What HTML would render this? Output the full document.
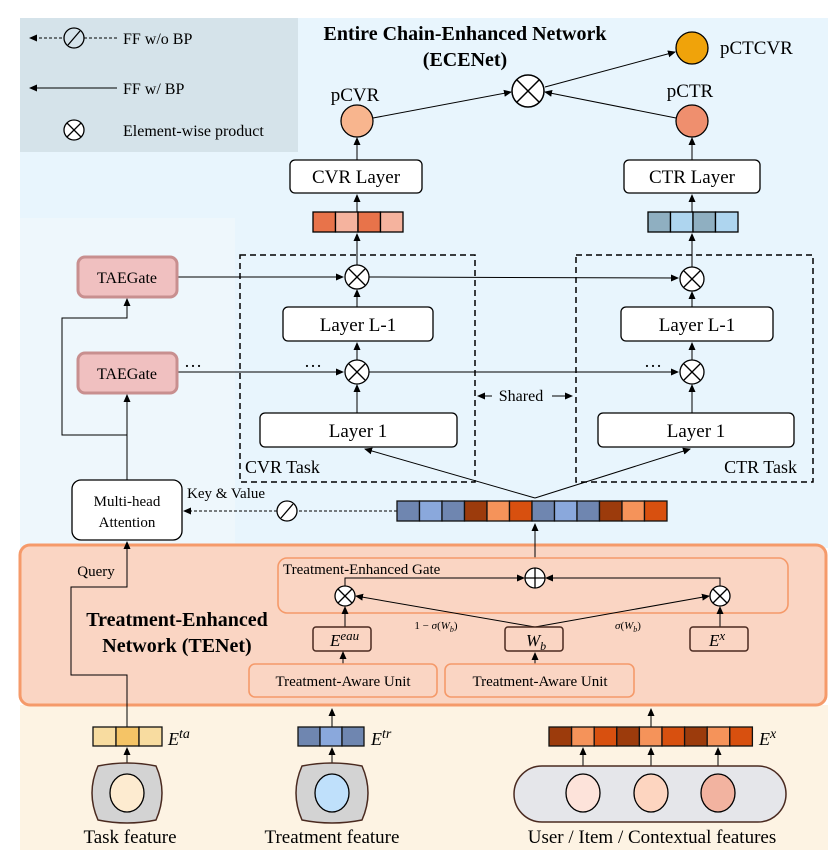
<!DOCTYPE html>
<html><head><meta charset="utf-8"><style>
html,body{margin:0;padding:0;background:#fff}
svg{display:block;font-family:"Liberation Serif",serif}
</style></head><body>
<svg width="840" height="862" viewBox="0 0 840 862" xmlns="http://www.w3.org/2000/svg">
<defs>
<marker id="a" markerWidth="8" markerHeight="8" refX="7" refY="4" orient="auto" markerUnits="userSpaceOnUse"><path d="M0,0.5 L8,4 L0,7.5 z" fill="#000"/></marker>
</defs>
<rect x="20" y="18" width="808" height="530" fill="#e8f5fd"/>
<rect x="20" y="218" width="215" height="330" fill="#eef7fc"/>
<rect x="20" y="18" width="278" height="134" fill="#d5e3ea"/>
<rect x="20" y="705" width="808" height="145" fill="#fdf3e3"/>
<rect x="20" y="545" width="806" height="160" rx="10" fill="#fad5c3" stroke="#f59a6a" stroke-width="3"/>

<!-- legend -->
<line x1="117" y1="38" x2="30" y2="38" stroke="#000" stroke-dasharray="3,2" marker-end="url(#a)"/>
<circle cx="74" cy="38" r="10" fill="#d5e3ea" stroke="#000" stroke-width="1.3"/><line x1="68" y1="45" x2="80" y2="31" stroke="#000" stroke-width="1.3"/>
<text x="123" y="44" font-size="16">FF w/o BP</text>
<line x1="117" y1="88" x2="30" y2="88" stroke="#000" marker-end="url(#a)"/>
<text x="123" y="94" font-size="16">FF w/ BP</text>
<g stroke="#000" stroke-width="1.3"><circle cx="74" cy="130" r="10" fill="#fff"/><line x1="67" y1="123" x2="81" y2="137"/><line x1="81" y1="123" x2="67" y2="137"/></g>
<text x="123" y="136" font-size="16">Element-wise product</text>

<text x="465" y="40" font-size="20" font-weight="bold" text-anchor="middle">Entire Chain-Enhanced Network</text>
<text x="465" y="66" font-size="20" font-weight="bold" text-anchor="middle">(ECENet)</text>

<line x1="545" y1="87" x2="675" y2="52" stroke="#000" marker-end="url(#a)"/>
<circle cx="692" cy="48" r="16" fill="#f0a30a" stroke="#000" stroke-width="1.3"/>
<text x="720" y="54" font-size="19">pCTCVR</text>
<line x1="373" y1="118" x2="511" y2="92" stroke="#000" marker-end="url(#a)"/>
<line x1="676" y1="118" x2="545" y2="92" stroke="#000" marker-end="url(#a)"/>
<g stroke="#000" stroke-width="1.5"><circle cx="528" cy="91" r="16" fill="#fff"/><line x1="517" y1="80" x2="539" y2="102"/><line x1="539" y1="80" x2="517" y2="102"/></g>
<circle cx="357" cy="121" r="16" fill="#f8b58e" stroke="#000" stroke-width="1.3"/>
<text x="355" y="101" font-size="19" text-anchor="middle">pCVR</text>
<circle cx="692" cy="121" r="16" fill="#ef8f6e" stroke="#000" stroke-width="1.3"/>
<text x="690" y="97" font-size="19" text-anchor="middle">pCTR</text>

<line x1="357" y1="160" x2="357" y2="138" stroke="#000" marker-end="url(#a)"/>
<line x1="692" y1="160" x2="692" y2="138" stroke="#000" marker-end="url(#a)"/>
<rect x="290" y="160" width="132" height="33" rx="5" fill="#fff" stroke="#000" stroke-width="1.3"/>
<text x="356" y="183" font-size="19" text-anchor="middle">CVR Layer</text>
<rect x="624" y="160" width="136" height="33" rx="5" fill="#fff" stroke="#000" stroke-width="1.3"/>
<text x="692" y="183" font-size="19" text-anchor="middle">CTR Layer</text>
<line x1="357" y1="212" x2="357" y2="195" stroke="#000" marker-end="url(#a)"/>
<line x1="692" y1="212" x2="692" y2="195" stroke="#000" marker-end="url(#a)"/>
<g stroke="#000" stroke-width="1.3">
<rect x="313" y="212" width="22.5" height="20" fill="#e8734a"/><rect x="335.5" y="212" width="22.5" height="20" fill="#f5b39e"/><rect x="358" y="212" width="22.5" height="20" fill="#e8734a"/><rect x="380.5" y="212" width="22.5" height="20" fill="#f5b39e"/>
<rect x="648" y="212" width="22.5" height="20" fill="#8fafc1"/><rect x="670.5" y="212" width="22.5" height="20" fill="#aed5ef"/><rect x="693" y="212" width="22.5" height="20" fill="#8fafc1"/><rect x="715.5" y="212" width="22.5" height="20" fill="#aed5ef"/>
</g>
<line x1="357" y1="265" x2="357" y2="234" stroke="#000" marker-end="url(#a)"/>
<line x1="692" y1="267" x2="692" y2="234" stroke="#000" marker-end="url(#a)"/>

<rect x="240" y="255" width="235" height="227" fill="none" stroke="#000" stroke-width="1.5" stroke-dasharray="6,4"/>
<rect x="576" y="255" width="237" height="227" fill="none" stroke="#000" stroke-width="1.5" stroke-dasharray="6,4"/>
<text x="245" y="473" font-size="18">CVR Task</text>
<text x="797" y="473" font-size="18" text-anchor="end">CTR Task</text>
<line x1="492" y1="396" x2="478" y2="396" stroke="#000" marker-end="url(#a)"/>
<line x1="552" y1="396" x2="572" y2="396" stroke="#000" marker-end="url(#a)"/>
<text x="521" y="401" font-size="16" text-anchor="middle">Shared</text>

<line x1="177" y1="277" x2="343" y2="277" stroke="#000" marker-end="url(#a)"/>
<line x1="369" y1="277" x2="678" y2="278" stroke="#000" marker-end="url(#a)"/>
<line x1="177" y1="372" x2="343" y2="372" stroke="#000" marker-end="url(#a)"/>
<line x1="369" y1="372" x2="678" y2="372" stroke="#000" marker-end="url(#a)"/>
<rect x="78" y="257" width="99" height="40" rx="7" fill="#f0c0c0" stroke="#c88f8f" stroke-width="3"/>
<text x="127" y="283" font-size="16" text-anchor="middle">TAEGate</text>
<rect x="78" y="353" width="99" height="40" rx="7" fill="#f0c0c0" stroke="#c88f8f" stroke-width="3"/>
<text x="127" y="379" font-size="16" text-anchor="middle">TAEGate</text>
<text x="184" y="367" font-size="18">…</text>
<text x="304" y="367" font-size="18">…</text>
<text x="644" y="367" font-size="18">…</text>

<g stroke="#000" stroke-width="1.3">
<circle cx="357" cy="277" r="12" fill="#fff"/><line x1="349" y1="269" x2="365" y2="285"/><line x1="365" y1="269" x2="349" y2="285"/>
<circle cx="357" cy="372" r="12" fill="#fff"/><line x1="349" y1="364" x2="365" y2="380"/><line x1="365" y1="364" x2="349" y2="380"/>
<circle cx="692" cy="279" r="12" fill="#fff"/><line x1="684" y1="271" x2="700" y2="287"/><line x1="700" y1="271" x2="684" y2="287"/>
<circle cx="692" cy="372" r="12" fill="#fff"/><line x1="684" y1="364" x2="700" y2="380"/><line x1="700" y1="364" x2="684" y2="380"/>
</g>
<line x1="357" y1="307" x2="357" y2="290" stroke="#000" marker-end="url(#a)"/>
<line x1="357" y1="360" x2="357" y2="343" stroke="#000" marker-end="url(#a)"/>
<line x1="357" y1="413" x2="357" y2="385" stroke="#000" marker-end="url(#a)"/>
<line x1="692" y1="307" x2="692" y2="292" stroke="#000" marker-end="url(#a)"/>
<line x1="692" y1="360" x2="692" y2="343" stroke="#000" marker-end="url(#a)"/>
<line x1="692" y1="413" x2="692" y2="385" stroke="#000" marker-end="url(#a)"/>
<rect x="283" y="307" width="150" height="34" rx="5" fill="#fff" stroke="#000" stroke-width="1.3"/>
<text x="358" y="331" font-size="19" text-anchor="middle">Layer L-1</text>
<rect x="621" y="307" width="152" height="34" rx="5" fill="#fff" stroke="#000" stroke-width="1.3"/>
<text x="697" y="331" font-size="19" text-anchor="middle">Layer L-1</text>
<rect x="260" y="413" width="197" height="34" rx="5" fill="#fff" stroke="#000" stroke-width="1.3"/>
<text x="358" y="437" font-size="19" text-anchor="middle">Layer 1</text>
<rect x="598" y="413" width="196" height="34" rx="5" fill="#fff" stroke="#000" stroke-width="1.3"/>
<text x="696" y="437" font-size="19" text-anchor="middle">Layer 1</text>

<line x1="535" y1="498" x2="365" y2="449" stroke="#000" marker-end="url(#a)"/>
<line x1="535" y1="498" x2="690" y2="449" stroke="#000" marker-end="url(#a)"/>

<polyline points="127,480 127,435 62,435 62,318 127,318 127,299" fill="none" stroke="#000" marker-end="url(#a)"/>
<line x1="127" y1="435" x2="127" y2="395" stroke="#000" marker-end="url(#a)"/>
<rect x="72" y="480" width="110" height="60" rx="9" fill="#fff" stroke="#000" stroke-width="1.3"/>
<text x="127" y="506" font-size="15" text-anchor="middle">Multi-head</text>
<text x="127" y="527" font-size="15" text-anchor="middle">Attention</text>

<line x1="397" y1="511" x2="184" y2="511" stroke="#000" stroke-dasharray="3,2" marker-end="url(#a)"/>
<circle cx="287" cy="511" r="10" fill="#fff" stroke="#000" stroke-width="1.3"/><line x1="281" y1="518" x2="293" y2="504" stroke="#000" stroke-width="1.3"/>
<text x="187" y="498" font-size="15">Key &amp; Value</text>
<g stroke="#111" stroke-width="1.3">
<rect x="397" y="501" width="22.5" height="20" fill="#6f86b0"/><rect x="419.5" y="501" width="22.5" height="20" fill="#8aa8dc"/><rect x="442" y="501" width="22.5" height="20" fill="#6f86b0"/><rect x="464.5" y="501" width="22.5" height="20" fill="#9c3b0c"/><rect x="487" y="501" width="22.5" height="20" fill="#f5935a"/><rect x="509.5" y="501" width="22.5" height="20" fill="#d8500f"/>
<rect x="532" y="501" width="22.5" height="20" fill="#6f86b0"/><rect x="554.5" y="501" width="22.5" height="20" fill="#8aa8dc"/><rect x="577" y="501" width="22.5" height="20" fill="#6f86b0"/><rect x="599.5" y="501" width="22.5" height="20" fill="#9c3b0c"/><rect x="622" y="501" width="22.5" height="20" fill="#f5935a"/><rect x="644.5" y="501" width="22.5" height="20" fill="#d8500f"/>
</g>
<line x1="535" y1="568" x2="535" y2="524" stroke="#000" marker-end="url(#a)"/>

<text x="177" y="626" font-size="20" font-weight="bold" text-anchor="middle">Treatment-Enhanced</text>
<text x="177" y="652" font-size="20" font-weight="bold" text-anchor="middle">Network (TENet)</text>
<text x="96" y="576" font-size="15" text-anchor="middle">Query</text>
<polyline points="127,727 127,675 71,675 71,587 127,587 127,542" fill="none" stroke="#000" marker-end="url(#a)"/>
<rect x="278" y="558" width="510" height="55" rx="9" fill="#fad5c3" stroke="#f59a6a" stroke-width="1.6"/>
<text x="283" y="574" font-size="15">Treatment-Enhanced Gate</text>
<polyline points="345,586 345,578 524,578" fill="none" stroke="#000" marker-end="url(#a)"/>
<polyline points="720,586 720,578 546,578" fill="none" stroke="#000" marker-end="url(#a)"/>
<g stroke="#000" stroke-width="1.3">
<circle cx="535" cy="578" r="10" fill="#fff"/><line x1="525" y1="578" x2="545" y2="578"/><line x1="535" y1="568" x2="535" y2="588"/>
<circle cx="345" cy="596" r="10" fill="#fff"/><line x1="338" y1="589" x2="352" y2="603"/><line x1="352" y1="589" x2="338" y2="603"/>
<circle cx="720" cy="596" r="10" fill="#fff"/><line x1="713" y1="589" x2="727" y2="603"/><line x1="727" y1="589" x2="713" y2="603"/>
</g>
<line x1="535" y1="627" x2="356" y2="596" stroke="#000" marker-end="url(#a)"/>
<line x1="535" y1="627" x2="709" y2="596" stroke="#000" marker-end="url(#a)"/>
<line x1="345" y1="627" x2="345" y2="607" stroke="#000" marker-end="url(#a)"/>
<line x1="720" y1="627" x2="720" y2="607" stroke="#000" marker-end="url(#a)"/>
<text x="436" y="629" font-size="11" text-anchor="middle">1 − <tspan font-style="italic">σ</tspan>(<tspan font-style="italic">W</tspan><tspan font-size="8" dy="3" font-style="italic">b</tspan><tspan dy="-3">)</tspan></text>
<text x="628" y="629" font-size="11" text-anchor="middle"><tspan font-style="italic">σ</tspan>(<tspan font-style="italic">W</tspan><tspan font-size="8" dy="3" font-style="italic">b</tspan><tspan dy="-3">)</tspan></text>
<g fill="#fad5c3" stroke="#4a2a20" stroke-width="1.5">
<rect x="313" y="627" width="58" height="24" rx="3"/><rect x="505" y="627" width="58" height="24" rx="3"/><rect x="690" y="627" width="58" height="24" rx="3"/>
</g>
<text x="330" y="646" font-size="17" font-style="italic">E<tspan font-size="13" dy="-6">eau</tspan></text>
<text x="526" y="646" font-size="17" font-style="italic">W<tspan font-size="12" dy="4">b</tspan></text>
<text x="709" y="646" font-size="17" font-style="italic">E<tspan font-size="13" dy="-6">x</tspan></text>
<line x1="343" y1="664" x2="343" y2="652" stroke="#000" marker-end="url(#a)"/>
<line x1="535" y1="664" x2="535" y2="653" stroke="#000" marker-end="url(#a)"/>
<rect x="249" y="664" width="188" height="33" rx="6" fill="#fad5c3" stroke="#f59a6a" stroke-width="1.6"/>
<text x="343" y="686" font-size="15" text-anchor="middle">Treatment-Aware Unit</text>
<rect x="445" y="664" width="189" height="33" rx="6" fill="#fad5c3" stroke="#f59a6a" stroke-width="1.6"/>
<text x="540" y="686" font-size="15" text-anchor="middle">Treatment-Aware Unit</text>

<line x1="332" y1="727" x2="332" y2="709" stroke="#000" marker-end="url(#a)"/>
<line x1="651" y1="727" x2="651" y2="709" stroke="#000" marker-end="url(#a)"/>
<g stroke="#111" stroke-width="1.3">
<rect x="93" y="727" width="23" height="19" fill="#f8dca0"/><rect x="116" y="727" width="23" height="19" fill="#f5c466"/><rect x="139" y="727" width="23" height="19" fill="#f8dca0"/>
<rect x="298" y="727" width="22" height="19" fill="#6f86b0"/><rect x="320" y="727" width="22" height="19" fill="#8aa8dc"/><rect x="342" y="727" width="22" height="19" fill="#6f86b0"/>
<rect x="549" y="727" width="22.6" height="19" fill="#9c3b0c"/><rect x="571.6" y="727" width="22.6" height="19" fill="#f5935a"/><rect x="594.2" y="727" width="22.6" height="19" fill="#d8500f"/><rect x="616.8" y="727" width="22.6" height="19" fill="#9c3b0c"/><rect x="639.4" y="727" width="22.6" height="19" fill="#f5935a"/><rect x="662" y="727" width="22.6" height="19" fill="#d8500f"/><rect x="684.6" y="727" width="22.6" height="19" fill="#9c3b0c"/><rect x="707.2" y="727" width="22.6" height="19" fill="#f5935a"/><rect x="729.8" y="727" width="22.6" height="19" fill="#d8500f"/>
</g>
<text x="168" y="745" font-size="18" font-style="italic">E<tspan font-size="14" dy="-7">ta</tspan></text>
<text x="371" y="745" font-size="18" font-style="italic">E<tspan font-size="14" dy="-7">tr</tspan></text>
<text x="759" y="745" font-size="18" font-style="italic">E<tspan font-size="14" dy="-7">x</tspan></text>
<line x1="127" y1="766" x2="127" y2="748" stroke="#000" marker-end="url(#a)"/>
<line x1="332" y1="766" x2="332" y2="748" stroke="#000" marker-end="url(#a)"/>
<line x1="583" y1="766" x2="583" y2="748" stroke="#000" marker-end="url(#a)"/>
<line x1="651" y1="766" x2="651" y2="748" stroke="#000" marker-end="url(#a)"/>
<line x1="718" y1="766" x2="718" y2="748" stroke="#000" marker-end="url(#a)"/>
<path d="M98,766 Q127,760 156,766 Q168,793 156,820 Q127,826 98,820 Q86,793 98,766 z" fill="#d3d3d3" stroke="#4a2a20" stroke-width="1.5"/>
<ellipse cx="127" cy="793" rx="17" ry="19" fill="#fdebd0" stroke="#000" stroke-width="1.3"/>
<path d="M302,766 Q332,760 362,766 Q374,793 362,820 Q332,826 302,820 Q290,793 302,766 z" fill="#d3d3d3" stroke="#4a2a20" stroke-width="1.5"/>
<ellipse cx="332" cy="793" rx="17" ry="19" fill="#bfe0fb" stroke="#000" stroke-width="1.3"/>
<rect x="514" y="766" width="272" height="56" rx="28" fill="#e5e6ea" stroke="#4a2a20" stroke-width="1.5"/>
<ellipse cx="583" cy="793" rx="17" ry="19" fill="#fde3da" stroke="#000" stroke-width="1.3"/>
<ellipse cx="651" cy="793" rx="17" ry="19" fill="#fdd5c0" stroke="#000" stroke-width="1.3"/>
<ellipse cx="718" cy="793" rx="17" ry="19" fill="#f2b3a0" stroke="#000" stroke-width="1.3"/>
<text x="130" y="843" font-size="19" text-anchor="middle">Task feature</text>
<text x="332" y="843" font-size="19" text-anchor="middle">Treatment feature</text>
<text x="652" y="843" font-size="19" text-anchor="middle">User / Item / Contextual features</text>
</svg>
</body></html>
